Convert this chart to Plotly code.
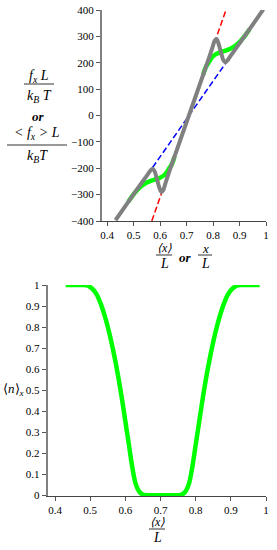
import plotly.graph_objects as go

# ---------------- data ----------------
gray_x = [0.432, 0.50, 0.555, 0.565, 0.572, 0.579, 0.588, 0.597, 0.605, 0.612, 0.620, 0.640,
          0.709, 0.778, 0.798, 0.806, 0.813, 0.821, 0.830, 0.839, 0.846, 0.853, 0.863, 0.92, 0.99]
gray_y = [-397, -299, -221, -207, -202, -210, -240, -272, -290, -283, -258, -198,
          0, 198, 258, 283, 290, 272, 240, 210, 202, 207, 221, 302, 402]

# green (averaged) curve: the two loops where it leaves the gray curve
green_lo_x = [0.48, 0.49, 0.50, 0.51, 0.52, 0.54, 0.56, 0.58, 0.60, 0.615, 0.625, 0.635, 0.645, 0.655]
green_lo_y = [-327, -313, -299, -287, -276, -260, -250, -243, -236, -227, -216, -200, -184, -155]
green_hi_x = [0.763, 0.773, 0.783, 0.793, 0.803, 0.818, 0.838, 0.858, 0.878, 0.898, 0.908, 0.918, 0.928, 0.938]
green_hi_y = [155, 184, 200, 216, 227, 236, 243, 250, 260, 276, 287, 299, 313, 327]

red_x = [0.569, 0.849]
red_y = [-400, 400]
blue_x = [0.572, 0.851]
blue_y = [-197, 203]

n_x = [0.43, 0.48, 0.49, 0.50, 0.51, 0.52, 0.53, 0.54, 0.55, 0.56, 0.57, 0.58, 0.59, 0.60, 0.61,
       0.62, 0.63, 0.64, 0.65, 0.66, 0.70, 0.75, 0.76, 0.77, 0.78, 0.79, 0.80, 0.81, 0.82, 0.83,
       0.84, 0.85, 0.86, 0.87, 0.88, 0.89, 0.90, 0.91, 0.92, 0.93, 0.982]
n_y = [1, 1, 0.998, 0.99, 0.975, 0.95, 0.91, 0.86, 0.80, 0.73, 0.65, 0.56, 0.46, 0.35, 0.24,
       0.13, 0.05, 0.015, 0.003, 0, 0, 0, 0.003, 0.015, 0.05, 0.13, 0.24, 0.35, 0.46, 0.56,
       0.65, 0.73, 0.80, 0.86, 0.91, 0.95, 0.975, 0.99, 0.998, 1, 1]

x_ticks = [0.4, 0.5, 0.6, 0.7, 0.8, 0.9, 1.0]
x_tick_text = ["0.4", "0.5", "0.6", "0.7", "0.8", "0.9", "1"]
f_ticks = [-400, -300, -200, -100, 0, 100, 200, 300, 400]
f_tick_text = ["\u2212400", "\u2212300", "\u2212200", "\u2212100", "0", "100", "200", "300", "400"]
n_ticks = [0, 0.1, 0.2, 0.3, 0.4, 0.5, 0.6, 0.7, 0.8, 0.9, 1.0]
n_tick_text = ["0", "0.1", "0.2", "0.3", "0.4", "0.5", "0.6", "0.7", "0.8", "0.9", "1"]

# ---------------- figure ----------------
W, H = 277, 550
GREEN = "#00ff00"
GRAY = "#808080"
FONT = "Liberation Serif, Times New Roman, serif"

fig = go.Figure()
for gx, gy in ((green_lo_x, green_lo_y), (green_hi_x, green_hi_y)):
    fig.add_trace(go.Scatter(x=gx, y=gy, mode="lines", line=dict(color=GREEN, width=4.5, shape="spline"),
                             xaxis="x", yaxis="y", hoverinfo="skip"))
fig.add_trace(go.Scatter(x=red_x, y=red_y, mode="lines", line=dict(color="#ff0000", width=1.5, dash="6px,3px"),
                         xaxis="x", yaxis="y", hoverinfo="skip"))
fig.add_trace(go.Scatter(x=blue_x, y=blue_y, mode="lines", line=dict(color="#0000ff", width=1.5, dash="6px,3px"),
                         xaxis="x", yaxis="y", hoverinfo="skip"))
fig.add_trace(go.Scatter(x=gray_x, y=gray_y, mode="lines", line=dict(color=GRAY, width=4, shape="spline"),
                         xaxis="x", yaxis="y", hoverinfo="skip"))
fig.add_trace(go.Scatter(x=n_x, y=n_y, mode="lines", line=dict(color=GREEN, width=4.5, shape="spline"),
                         xaxis="x2", yaxis="y2", hoverinfo="skip"))


def px(v):
    return v / W


def py(v):
    return 1 - v / H


axis_common = dict(showgrid=False, zeroline=False, ticks="outside", ticklen=4, tickwidth=1,
                   tickcolor="#555555", tickfont=dict(family=FONT, size=11, color="#000000"),
                   showline=True, fixedrange=True)

fig.update_layout(
    width=W, height=H,
    margin=dict(l=0, r=0, t=0, b=0, autoexpand=False),
    paper_bgcolor="white", plot_bgcolor="white",
    showlegend=False,
    hovermode=False,
    font=dict(family=FONT, color="#000000"),
    xaxis=dict(domain=[px(102), px(266)], range=[0.381, 1.0], anchor="y",
               tickvals=x_ticks, ticktext=x_tick_text, linecolor="#444444", linewidth=1, **axis_common),
    yaxis=dict(domain=[py(221), py(10)], range=[-400, 400], anchor="x",
               tickvals=f_ticks, ticktext=f_tick_text, linecolor=GRAY, linewidth=2, **axis_common),
    xaxis2=dict(domain=[px(47.7), px(266)], range=[0.379, 1.0], anchor="y2",
                tickvals=x_ticks, ticktext=x_tick_text, linecolor="#444444", linewidth=1, **axis_common),
    yaxis2=dict(domain=[py(496), py(285)], range=[-0.004, 1.0], anchor="x2",
                tickvals=n_ticks, ticktext=n_tick_text, linecolor=GRAY, linewidth=2, **axis_common),
)

annotations = []
shapes = []


def label(text, x, y, size=14):
    annotations.append(dict(text=text, x=px(x), y=py(y), xref="paper", yref="paper",
                            xanchor="center", yanchor="middle", showarrow=False,
                            font=dict(family=FONT, size=size, color="#000000")))


def bar(x0, x1, y):
    shapes.append(dict(type="line", xref="paper", yref="paper", x0=px(x0), x1=px(x1), y0=py(y), y1=py(y),
                       line=dict(color="#333333", width=1)))


# top y label
label("<i>f<sub>x</sub> L</i>", 39, 76)
bar(24, 54, 84)
label("<i>k<sub>B</sub> T</i>", 39, 96)
label("<b><i>or</i></b>", 38, 116, 13)
label("<i>&lt; f<sub>x</sub> &gt; L</i>", 37, 133)
bar(7, 67, 145)
label("<i>k<sub>B</sub>T</i>", 37, 156)

# top x label
label("<i>\u27e8x\u27e9</i>", 164, 248, 12)
bar(156, 172, 255)
label("<i>L</i>", 164, 263)
label("<b><i>or</i></b>", 185, 257, 13)
label("<i>x</i>", 205, 248, 13)
bar(198, 212, 255)
label("<i>L</i>", 205, 263)

# bottom x label
label("<i>\u27e8x\u27e9</i>", 157, 522, 12)
bar(149, 165, 529)
label("<i>L</i>", 157, 537)

# bottom y label
label("\u27e8<i>n</i>\u27e9<sub><i>x</i></sub>", 13, 389, 13)

fig.update_layout(annotations=annotations, shapes=shapes)

# remove the browser's default 8px body margin so the figure sits at the page origin
fig.write_html("out.html", config={"displayModeBar": False},
               post_script="document.body.style.margin='0';document.body.style.overflow='hidden';")
